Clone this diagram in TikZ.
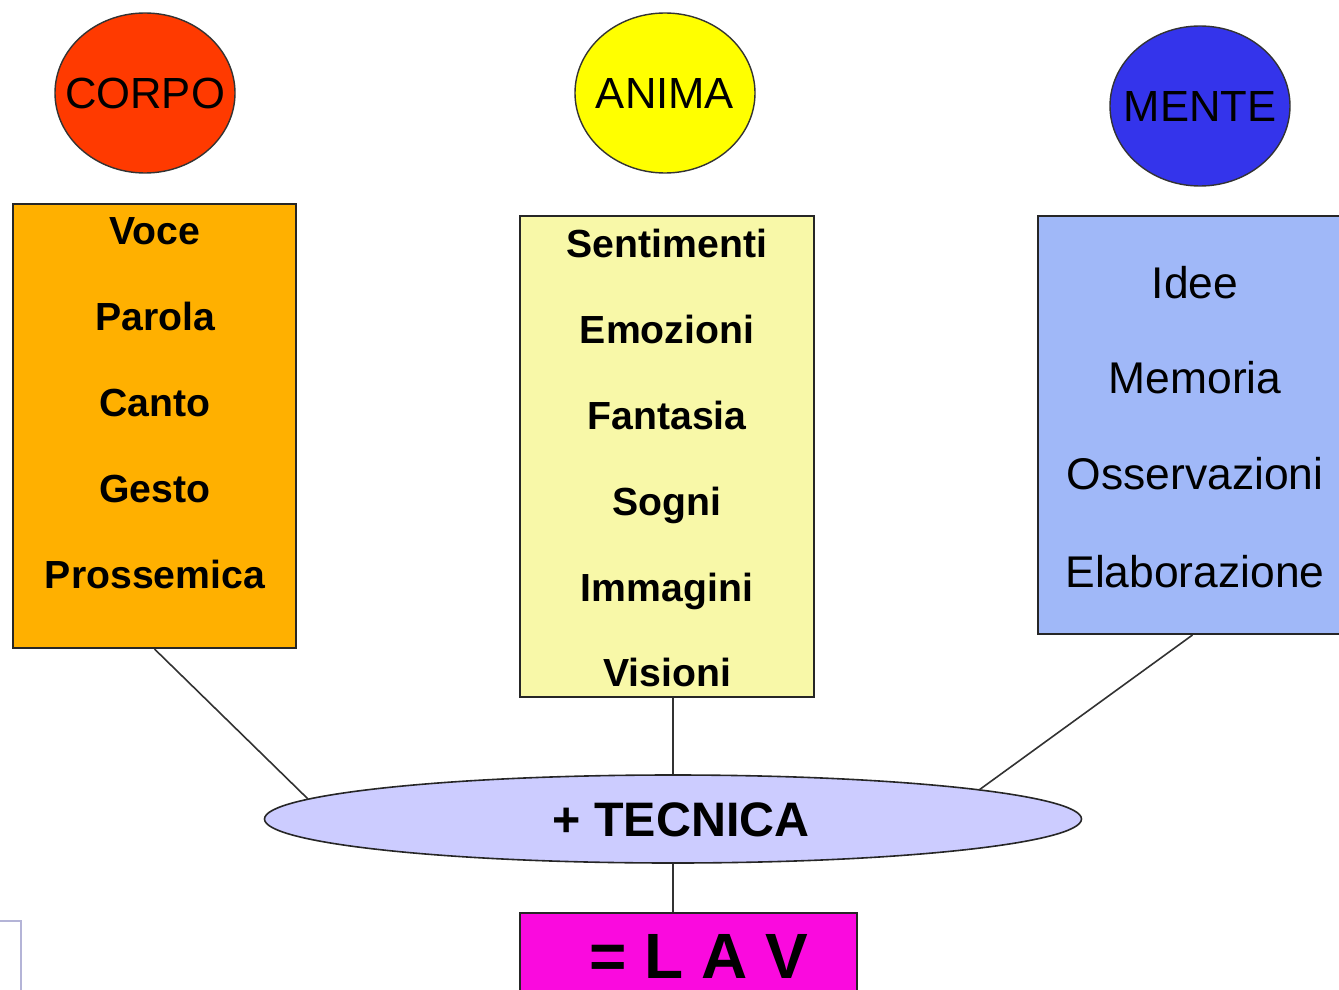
\documentclass[tikz,border=0pt]{standalone}
\usepackage{fontspec}
\setmainfont{Liberation Sans}
\usetikzlibrary{shapes.geometric}
\definecolor{corpoRed}{RGB}{255,58,0}
\definecolor{animaYel}{RGB}{255,255,0}
\definecolor{menteBlue}{RGB}{52,52,235}
\definecolor{corpoBox}{RGB}{255,176,0}
\definecolor{animaBox}{RGB}{248,248,168}
\definecolor{menteBox}{RGB}{160,184,248}
\definecolor{tecFill}{RGB}{204,204,255}
\definecolor{lavFill}{RGB}{250,10,222}
\definecolor{lineGray}{RGB}{50,50,50}
\definecolor{fragGray}{RGB}{180,180,215}
\tikzset{
  circ/.style={ellipse, draw=black!80, line width=0.7pt, minimum width=90pt, minimum height=80pt, inner sep=0pt},
  circtext/.style={anchor=base, font=\fontsize{21.8}{24}\selectfont},
  box/.style={rectangle, draw=black!85, line width=1pt, inner sep=0pt},
  bitem/.style={anchor=base, font=\bfseries\fontsize{19.6}{22}\selectfont},
  ritem/.style={anchor=base, font=\fontsize{22.2}{24}\selectfont},
  conn/.style={draw=lineGray, line width=0.8pt},
}
\begin{document}
\begin{tikzpicture}[x=0.5pt,y=-0.5pt]
\useasboundingbox (0,0) rectangle (1339,990);
% fragment at bottom left
\draw[fragGray, line width=0.8pt] (-10,921) -- (21,921) -- (21,1000);
% circles
\node[circ, fill=corpoRed] (corpo) at (145,93) {};
\node[circ, fill=animaYel] (anima) at (665,93) {};
\node[circ, fill=menteBlue] (mente) at (1200,106) {};
\node[circtext] (corpot) at (145,109) {CORPO};
\node[circtext] (animat) at (665,109) {ANIMA};
\node[circtext] (mentet) at (1200,122) {MENTE};
% boxes
\node[box, fill=corpoBox, minimum width=141.5pt, minimum height=222pt] (corpobox) at (154.5,426) {};
\node[box, fill=animaBox, minimum width=147pt, minimum height=240.5pt] (animabox) at (667,456.5) {};
\node[box, fill=menteBox, minimum width=153.5pt, minimum height=209pt] (mentebox) at (1191.5,425) {};
% corpo items
\node[bitem] (c1) at (155,244) {Voce};
\node[bitem] (c2) at (155,330) {Parola};
\node[bitem] (c3) at (155,416) {Canto};
\node[bitem] (c4) at (155,502) {Gesto};
\node[bitem] (c5) at (155,588) {Prossemica};
% anima items
\node[bitem] (a1) at (667,257) {Sentimenti};
\node[bitem] (a2) at (667,343) {Emozioni};
\node[bitem] (a3) at (667,429) {Fantasia};
\node[bitem] (a4) at (667,515) {Sogni};
\node[bitem] (a5) at (667,601) {Immagini};
\node[bitem] (a6) at (667,686) {Visioni};
% mente items
\node[ritem] (m1) at (1195,298) {Idee};
\node[ritem] (m2) at (1195,393) {Memoria};
\node[ritem] (m3) at (1195,489) {Osservazioni};
\node[ritem] (m4) at (1195,587) {Elaborazione};
% tecnica ellipse
\node[ellipse, draw=black!85, line width=0.8pt, fill=tecFill, minimum width=408.5pt, minimum height=44pt, inner sep=0pt] (tec) at (673,819) {};
\node[anchor=base, font=\bfseries\fontsize{24.2}{26}\selectfont] (tect) at (681,836) {+ TECNICA};
% lav box
\node[box, fill=lavFill, minimum width=168.5pt, minimum height=41pt] (lav) at (688.5,954) {};
\node[anchor=base, font=\bfseries\fontsize{32}{34}\selectfont] (lavtext) at (699,978) {= L A V};
% contact points on the ellipse border
\coordinate (tecL) at ([shift={(-365,-20)}]tec.center);
\coordinate (tecR) at ([shift={(306,-29)}]tec.center);
% connectors
\draw[conn] (corpobox.south) -- (tecL);
\draw[conn] (tec.north |- animabox.south) -- (tec.north);
\draw[conn] ([xshift=0.5pt]mentebox.south) -- (tecR);
\draw[conn] (tec.south) -- (tec.south |- lav.north);
\end{tikzpicture}
\end{document}
